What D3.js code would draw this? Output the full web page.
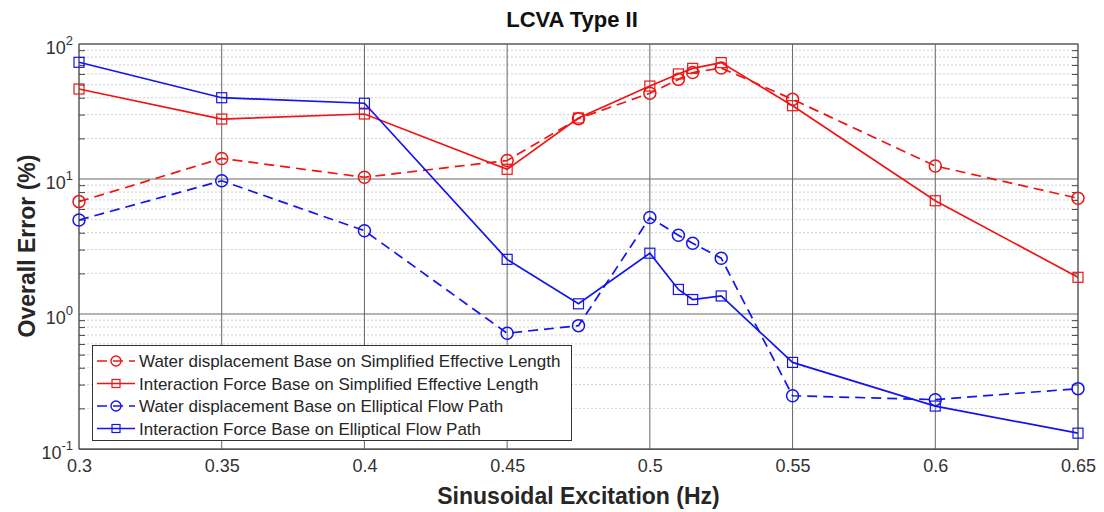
<!DOCTYPE html>
<html><head><meta charset="utf-8">
<script src="https://cdn.jsdelivr.net/npm/d3@7"></script>
<style>body{margin:0;background:#fff;} text{font-family:"Liberation Sans",Arial,sans-serif;}</style>
</head><body>
<svg id="c" width="1104" height="512"></svg>
<script>
const freq = [0.3, 0.35, 0.4, 0.45, 0.475, 0.5, 0.51, 0.515, 0.525, 0.55, 0.6, 0.65];
const waterSEL = [6.8, 14.2, 10.3, 13.7, 28.0, 43.2, 54.7, 61.4, 66.4, 38.9, 12.5, 7.2];
const forceSEL = [46.4, 27.8, 30.3, 11.8, 28.3, 48.8, 60.0, 66.0, 72.8, 34.9, 6.9, 1.87];
const waterEFP = [4.97, 9.7, 4.14, 0.72, 0.82, 5.18, 3.83, 3.34, 2.59, 0.248, 0.232, 0.28];
const forceEFP = [73.2, 40.0, 36.4, 2.54, 1.19, 2.82, 1.52, 1.28, 1.36, 0.438, 0.208, 0.131];
const xTicks = [0.3, 0.35, 0.4, 0.45, 0.5, 0.55, 0.6, 0.65];
const yTickExp = [-1, 0, 1, 2];
const seriesNames = [
  "Water displacement Base on Simplified Effective Length",
  "Interaction Force Base on Simplified Effective Length",
  "Water displacement Base on Elliptical Flow Path",
  "Interaction Force Base on Elliptical Flow Path"
];
const seriesColors = ["#f01414", "#f01414", "#1414ee", "#1414ee"];
const seriesDash = [true, false, true, false];
const seriesMarker = ["circle", "square", "circle", "square"];
const seriesData = [waterSEL, forceSEL, waterEFP, forceEFP];

const svg = d3.select("#c");
const L = 79, R = 1078, T = 44, B = 449;
const x = d3.scaleLinear().domain([0.3, 0.65]).range([L, R]);
const y = d3.scaleLog().domain([0.1, 100]).range([B, T]);

// minor grid
const minors = [];
for (let e = -1; e < 2; e++) for (let k = 2; k <= 9; k++) minors.push(k * Math.pow(10, e));
svg.append("g").selectAll("line").data(minors).join("line")
  .attr("x1", L).attr("x2", R).attr("y1", d => y(d)).attr("y2", d => y(d))
  .attr("stroke", "#cfcfcf").attr("stroke-width", 1).attr("stroke-dasharray", "2,2");
// major grid
svg.append("g").selectAll("line").data(xTicks).join("line")
  .attr("x1", d => x(d)).attr("x2", d => x(d)).attr("y1", T).attr("y2", B)
  .attr("stroke", "#666").attr("stroke-width", 1);
svg.append("g").selectAll("line").data(yTickExp).join("line")
  .attr("x1", L).attr("x2", R).attr("y1", d => y(Math.pow(10, d))).attr("y2", d => y(Math.pow(10, d)))
  .attr("stroke", "#666").attr("stroke-width", 1);

// axes
const xAxis = d3.axisBottom(x).tickValues(xTicks).tickFormat(d3.format("")).tickSize(0).tickPadding(10);
const gx = svg.append("g").attr("transform", `translate(0,${B})`).call(xAxis);
gx.attr("font-size", null).attr("font-family", null);
gx.select(".domain").attr("stroke", "#555");
gx.selectAll("text").attr("font-size", 18).attr("fill", "#333");

const yMinorAxisL = d3.axisLeft(y).tickValues(minors).tickSize(-6).tickFormat("");
const gyl = svg.append("g").attr("transform", `translate(${L},0)`).call(yMinorAxisL);
gyl.selectAll(".tick line").attr("stroke", "#444");
gyl.select(".domain").remove();
const yMinorAxisR = d3.axisRight(y).tickValues(minors).tickSize(-6).tickFormat("");
const gyr = svg.append("g").attr("transform", `translate(${R},0)`).call(yMinorAxisR);
gyr.selectAll(".tick line").attr("stroke", "#444");
gyr.select(".domain").remove();

// frame
svg.append("rect").attr("x", L).attr("y", T).attr("width", R - L).attr("height", B - T)
  .attr("fill", "none").attr("stroke", "#555").attr("stroke-width", 1);

// y tick labels
const yl = svg.append("g").selectAll("text").data(yTickExp).join("text")
  .attr("x", 73).attr("y", d => y(Math.pow(10, d)) + 10)
  .attr("text-anchor", "end").attr("font-size", 18).attr("fill", "#333");
yl.append("tspan").text("10");
yl.append("tspan").attr("dy", -9).attr("font-size", 13).text(d => d);

// series
seriesData.forEach((vals, i) => {
  const pts = freq.map((f, j) => [f, vals[j]]);
  const line = d3.line().x(d => x(d[0])).y(d => y(d[1]));
  svg.append("path").datum(pts).attr("d", line).attr("fill", "none")
    .attr("stroke", seriesColors[i]).attr("stroke-width", 1.7)
    .attr("stroke-dasharray", seriesDash[i] ? "10,6" : null);
  const g = svg.append("g");
  if (seriesMarker[i] === "circle") {
    g.selectAll("circle").data(pts).join("circle")
      .attr("cx", d => x(d[0])).attr("cy", d => y(d[1])).attr("r", 6)
      .attr("fill", "none").attr("stroke", seriesColors[i]).attr("stroke-width", 1.5);
  } else {
    g.selectAll("rect").data(pts).join("rect")
      .attr("x", d => x(d[0]) - 5).attr("y", d => y(d[1]) - 5).attr("width", 10).attr("height", 10)
      .attr("fill", "none").attr("stroke", seriesColors[i]).attr("stroke-width", 1.2);
  }
});

// legend
const lg = svg.append("g");
lg.append("rect").attr("x", 92.5).attr("y", 345.5).attr("width", 479).attr("height", 95)
  .attr("fill", "#fff").attr("stroke", "#333").attr("stroke-width", 1);
seriesNames.forEach((name, i) => {
  const cy = 361 + i * 22.5;
  lg.append("line").attr("x1", 97).attr("x2", 135).attr("y1", cy).attr("y2", cy)
    .attr("stroke", seriesColors[i]).attr("stroke-width", 1.7)
    .attr("stroke-dasharray", seriesDash[i] ? "10,6" : null);
  if (seriesMarker[i] === "circle") {
    lg.append("circle").attr("cx", 116).attr("cy", cy).attr("r", 5)
      .attr("fill", "none").attr("stroke", seriesColors[i]).attr("stroke-width", 1.4);
  } else {
    lg.append("rect").attr("x", 112).attr("y", cy - 4).attr("width", 8).attr("height", 8)
      .attr("fill", "none").attr("stroke", seriesColors[i]).attr("stroke-width", 1.2);
  }
  lg.append("text").attr("x", 139).attr("y", cy + 6).attr("font-size", 17).attr("fill", "#262626").text(name);
});

// titles
svg.append("text").attr("x", 572).attr("y", 27).attr("text-anchor", "middle")
  .attr("font-size", 22).attr("font-weight", "bold").attr("fill", "#111").text("LCVA Type II");
svg.append("text").attr("x", 578.5).attr("y", 504).attr("text-anchor", "middle")
  .attr("font-size", 23).attr("font-weight", "bold").attr("fill", "#262626").text("Sinusoidal Excitation (Hz)");
svg.append("text").attr("transform", "translate(35,246) rotate(-90)").attr("text-anchor", "middle")
  .attr("font-size", 23).attr("font-weight", "bold").attr("fill", "#262626").text("Overall Error (%)");
</script>
</body></html>
